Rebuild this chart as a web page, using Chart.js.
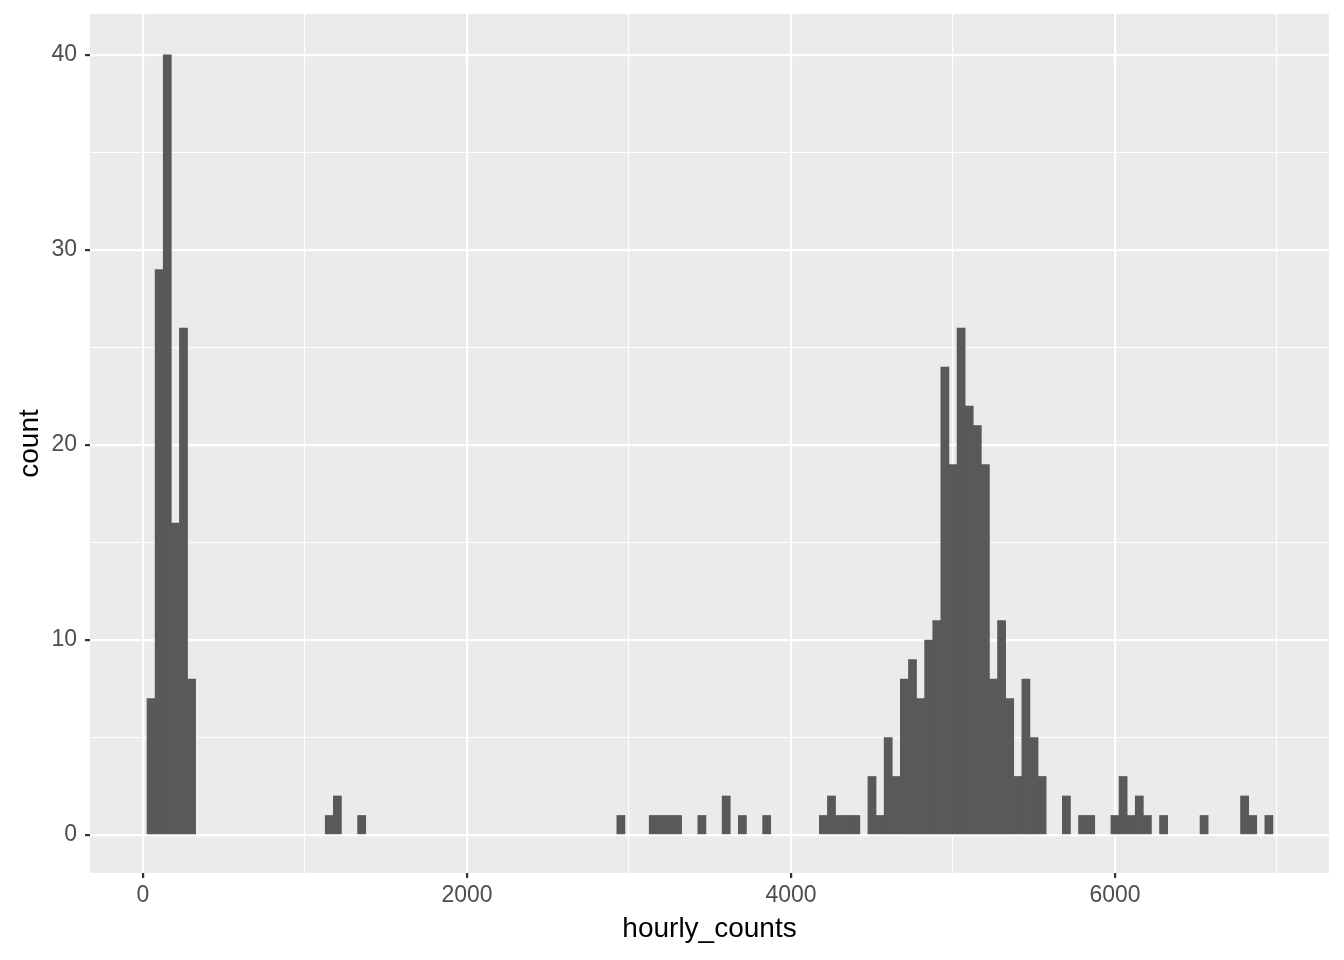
<!DOCTYPE html>
<html>
<head>
<meta charset="utf-8">
<script src="https://cdn.jsdelivr.net/npm/chart.js@4"></script>
<style>
  body { margin: 0; background: #fff; }
  canvas { display: block; }
</style>
</head>
<body>
<canvas id="myChart" width="1344" height="960"></canvas>
<script>
// non-empty histogram bins (bin midpoint, count), binwidth 50
var binMids = [50, 100, 150, 200, 250, 300, 1150, 1200, 1350, 2950, 3150, 3200, 3250, 3300,
	3450, 3600, 3700, 3850, 4200, 4250, 4300, 4350, 4400, 4500, 4550, 4600, 4650, 4700,
	4750, 4800, 4850, 4900, 4950, 5000, 5050, 5100, 5150, 5200, 5250, 5300, 5350, 5400,
	5450, 5500, 5550, 5700, 5800, 5850, 6000, 6050, 6100, 6150, 6200, 6300, 6550, 6800,
	6850, 6950]
var binCounts = [7, 29, 40, 16, 26, 8, 1, 2, 1, 1, 1, 1, 1, 1,
	1, 2, 1, 1, 1, 2, 1, 1, 1, 3, 1, 5, 3, 8,
	9, 7, 10, 11, 24, 19, 26, 22, 21, 19, 8, 11, 7, 3,
	8, 5, 3, 2, 1, 1, 1, 3, 1, 2, 1, 1, 1, 2,
	1, 1]
var binWidth = 50
var xTicks = [0, 2000, 4000, 6000]
var yTicks = [0, 10, 20, 30, 40]

// empty bins are null so every bar gets the same width but nothing is drawn
var points = []
for (var m = binMids[0]; m <= binMids[binMids.length - 1]; m += binWidth) {
	var i = binMids.indexOf(m)
	points.push({ x: m, y: i >= 0 ? binCounts[i] : null })
}

var panelBg = {
	id: 'panelBg',
	beforeDraw (chart) {
		var a = chart.chartArea
		var ctx = chart.ctx
		ctx.save()
		ctx.fillStyle = '#ebebeb'
		ctx.fillRect(a.left, a.top, a.right - a.left, a.bottom - a.top)
		ctx.restore()
	}
}

var isMajor = (majors, c) => !!(c && c.tick && majors.indexOf(c.tick.value) >= 0)

var gridOpts = (majors) => ({
	color: '#ffffff',
	offset: false,
	lineWidth: (c) => isMajor(majors, c) ? 2.2 : 1.1,
	tickColor: (c) => isMajor(majors, c) ? '#333333' : 'rgba(0,0,0,0)',
	tickLength: 5
})

var ctx = document.getElementById('myChart').getContext('2d')
new Chart(ctx, {
	type: 'bar',
	data: {
		datasets: [{
			data: points,
			backgroundColor: '#595959',
			borderWidth: 0,
			barPercentage: 1,
			categoryPercentage: 1,
			skipNull: true
		}]
	},
	options: {
		responsive: false,
		animation: false,
		layout: { padding: { top: 14, right: 15, left: 13, bottom: 14 } },
		plugins: { legend: { display: false }, tooltip: { enabled: false } },
		scales: {
			x: {
				type: 'linear',
				offset: false,
				min: -327,
				max: 7321,
				border: { display: false },
				grid: gridOpts(xTicks),
				afterBuildTicks (s) {
					s.ticks = [0, 1000, 2000, 3000, 4000, 5000, 6000, 7000].map(v => ({ value: v }))
				},
				afterFit (s) { s.height = 73 },
				ticks: {
					color: '#4d4d4d',
					font: { family: 'Liberation Sans, Arial', size: 23 },
					padding: 4,
					maxRotation: 0,
					autoSkip: false,
					callback: (v) => xTicks.indexOf(v) >= 0 ? String(v) : ''
				},
				title: {
					display: true,
					text: 'hourly_counts',
					color: '#000000',
					font: { family: 'Liberation Sans, Arial', size: 28 },
					padding: { top: 0, bottom: 0 }
				}
			},
			y: {
				min: -1.95,
				max: 42.1,
				border: { display: false },
				grid: gridOpts(yTicks),
				afterBuildTicks (s) {
					s.ticks = [0, 5, 10, 15, 20, 25, 30, 35, 40].map(v => ({ value: v }))
				},
				afterFit (s) { s.width = 77; s.paddingTop = 0; s.paddingBottom = 0 },
				ticks: {
					color: '#4d4d4d',
					font: { family: 'Liberation Sans, Arial', size: 23, lineHeight: 0.5 },
					padding: 8,
					autoSkip: false,
					callback: (v) => yTicks.indexOf(v) >= 0 ? String(v) : ''
				},
				title: {
					display: true,
					text: 'count',
					color: '#000000',
					font: { family: 'Liberation Sans, Arial', size: 28 },
					padding: { top: 0, bottom: 0 }
				}
			}
		}
	},
	plugins: [panelBg]
})
</script>
</body>
</html>
